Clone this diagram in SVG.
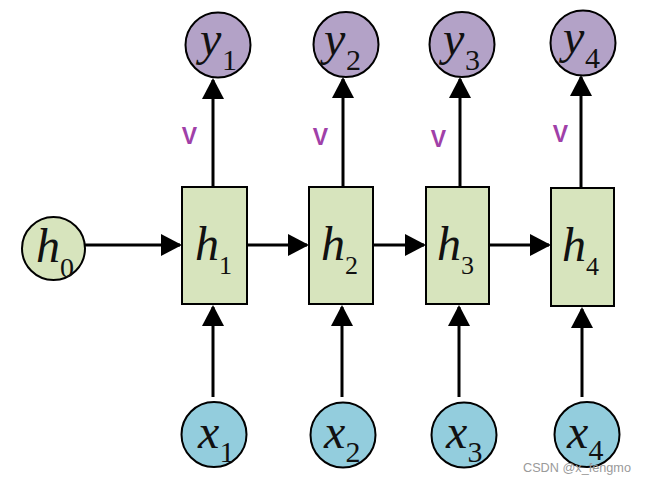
<svg xmlns="http://www.w3.org/2000/svg" width="646" height="482" viewBox="0 0 646 482">
<defs>
<marker id="ah" markerUnits="userSpaceOnUse" markerWidth="22" markerHeight="22" refX="19" refY="11" orient="auto" viewBox="0 0 22 22">
<path d="M0,0 L21,11 L0,22 Z" fill="#000"/>
</marker>
<style>
.conn line{stroke:#000;stroke-width:3;marker-end:url(#ah)}
.box{fill:#d7e4bd;stroke:#000;stroke-width:2}
.hc{fill:#d7e4bd;stroke:#000;stroke-width:2}
.yc{fill:#b3a2c7;stroke:#000;stroke-width:2}
.xc{fill:#93cddd;stroke:#000;stroke-width:2}
.m{font-family:"Liberation Serif","Times New Roman",serif;font-style:italic;font-size:48px;fill:#111}
.s{font-family:"Liberation Serif","Times New Roman",serif;font-size:30px;fill:#111}
.sb{font-family:"Liberation Serif","Times New Roman",serif;font-size:26px;fill:#111}
.v{font-family:"Liberation Sans",Arial,sans-serif;font-weight:bold;font-size:23px;fill:#a040a8;text-anchor:middle}
.wm{font-family:"Liberation Sans",Arial,sans-serif;font-size:13px;fill:#9a9a9a}
</style>
</defs>
<rect width="646" height="482" fill="#fff"/>

<g class="conn" id="connectors">
<line x1="85" y1="245" x2="180" y2="245"/>
<line x1="247" y1="245" x2="307" y2="245"/>
<line x1="373" y1="245" x2="424" y2="245"/>
<line x1="489" y1="245" x2="549" y2="245"/>
<line x1="213" y1="187" x2="213" y2="80"/>
<line x1="343" y1="187" x2="343" y2="79"/>
<line x1="460" y1="187" x2="460" y2="79"/>
<line x1="581" y1="188" x2="581" y2="77"/>
<line x1="213" y1="397" x2="213" y2="307"/>
<line x1="342" y1="397" x2="342" y2="307"/>
<line x1="459" y1="397" x2="459" y2="307"/>
<line x1="582" y1="397" x2="582" y2="309"/>
</g>

<g id="h0">
<circle class="hc" cx="53.5" cy="248.5" r="31.5"/>
<text class="m" x="36" y="262">h</text>
<text class="s" x="60" y="277" style="font-size:28px">0</text>
</g>

<g id="h1">
<rect class="box" x="182" y="187" width="65" height="117"/>
<text class="m" x="195" y="260">h</text>
<text class="sb" x="219" y="274">1</text>
</g>
<g id="h2">
<rect class="box" x="309" y="187" width="64" height="117"/>
<text class="m" x="321" y="260">h</text>
<text class="sb" x="345" y="274">2</text>
</g>
<g id="h3">
<rect class="box" x="426" y="187" width="63" height="117"/>
<text class="m" x="437" y="260">h</text>
<text class="sb" x="461" y="274">3</text>
</g>
<g id="h4">
<rect class="box" x="551" y="188" width="63" height="118"/>
<text class="m" x="562" y="261">h</text>
<text class="sb" x="586" y="275">4</text>
</g>

<g id="y1">
<circle class="yc" cx="218" cy="45" r="32.5"/>
<text class="m" x="200" y="55">y</text>
<text class="s" x="222" y="70">1</text>
</g>
<g id="y2">
<circle class="yc" cx="346" cy="44.5" r="32.5"/>
<text class="m" x="324" y="55">y</text>
<text class="s" x="346" y="70">2</text>
</g>
<g id="y3">
<circle class="yc" cx="462" cy="44.5" r="32.5"/>
<text class="m" x="443" y="55">y</text>
<text class="s" x="465" y="70">3</text>
</g>
<g id="y4">
<circle class="yc" cx="583" cy="43" r="32.5"/>
<text class="m" x="563" y="53">y</text>
<text class="s" x="585" y="68">4</text>
</g>

<g id="x1">
<circle class="xc" cx="214" cy="434.5" r="32.5"/>
<text class="m" x="198" y="448">x</text>
<text class="s" x="219.5" y="462">1</text>
</g>
<g id="x2">
<circle class="xc" cx="343" cy="435" r="32.5"/>
<text class="m" x="324" y="448">x</text>
<text class="s" x="345.5" y="462">2</text>
</g>
<g id="x3">
<circle class="xc" cx="464" cy="435" r="32.5"/>
<text class="m" x="446" y="448">x</text>
<text class="s" x="467.5" y="462">3</text>
</g>
<g id="x4">
<circle class="xc" cx="587" cy="434.5" r="32.5"/>
<text class="m" x="567" y="448">x</text>
<text class="s" x="588.5" y="460">4</text>
</g>

<g id="labels">
<text class="v" x="189.5" y="144">V</text>
<text class="v" x="320.5" y="145">V</text>
<text class="v" x="438.5" y="147">V</text>
<text class="v" x="560.5" y="142">V</text>
</g>

<text class="wm" x="523" y="472" textLength="108" lengthAdjust="spacingAndGlyphs">CSDN @x_fengmo</text>
</svg>
